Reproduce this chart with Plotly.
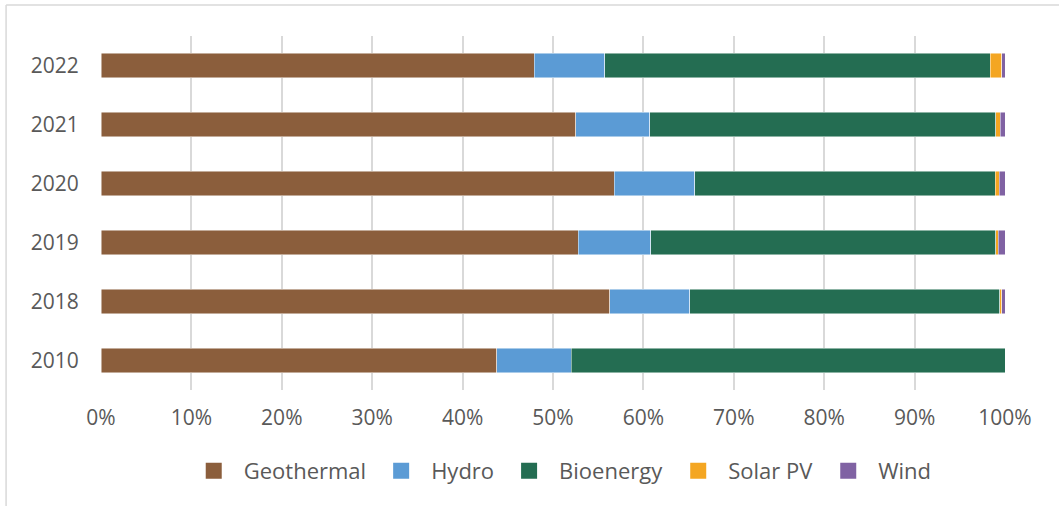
import plotly.graph_objects as go

years = ["2010", "2018", "2019", "2020", "2021", "2022"]
geothermal = [43.8, 56.3, 52.8, 56.8, 52.5, 47.9]
hydro = [8.2, 8.8, 8.0, 8.9, 8.2, 7.85]
bioenergy = [48.0, 34.3, 38.2, 33.2, 38.3, 42.6]
solar_pv = [0.0, 0.25, 0.25, 0.45, 0.45, 1.3]
wind = [0.0, 0.35, 0.75, 0.65, 0.55, 0.35]

series = [
    ("Geothermal", geothermal, "#8B5E3C"),
    ("Hydro", hydro, "#5B9BD5"),
    ("Bioenergy", bioenergy, "#246D52"),
    ("Solar PV", solar_pv, "#F4A622"),
    ("Wind", wind, "#8062A3"),
]

fig = go.Figure()
for name, vals, col in series:
    fig.add_trace(go.Bar(
        y=years, x=vals, name=name, orientation="h", showlegend=False,
        marker=dict(color=col, line=dict(color="rgba(255,255,255,0.6)", width=0.8)),
    ))
# legend swatches (larger squares)
for name, vals, col in series:
    fig.add_trace(go.Scatter(
        x=[None], y=[None], mode="markers", name=name,
        marker=dict(symbol="square", size=16, color=col),
    ))

txt = "#595959"
fig.update_layout(
    width=1059, height=506,
    margin=dict(l=101, r=54, t=36, b=116),
    barmode="stack", barnorm="percent", bargap=0.593,
    plot_bgcolor="white", paper_bgcolor="white",
    font=dict(family="Open Sans", color=txt, size=21),
    xaxis=dict(range=[0, 100], dtick=10, ticksuffix="%", showgrid=True,
               gridcolor="#d9d9d9", gridwidth=1.5, zeroline=False,
               ticks="outside", ticklen=9, tickcolor="rgba(0,0,0,0)",
               tickfont=dict(size=21, color=txt), fixedrange=True),
    yaxis=dict(categoryorder="array", categoryarray=years, showgrid=False,
               ticks="outside", ticklen=17, tickcolor="rgba(0,0,0,0)",
               tickfont=dict(size=21, color=txt), zeroline=False),
    legend=dict(orientation="h", x=0.508, xanchor="center", y=-0.229, yanchor="middle",
                font=dict(family="Open Sans", size=22, color=txt), traceorder="normal",
                itemwidth=50),
    shapes=[
        dict(type="line", xref="paper", yref="paper", x0=-0.105, x1=1.2, y0=1.0876, y1=1.0876,
             line=dict(color="#d9d9d9", width=1.5)),
        dict(type="line", xref="paper", yref="paper", x0=-0.105, x1=-0.105, y0=-0.6, y1=1.0876,
             line=dict(color="#d9d9d9", width=1.5)),
    ],
)

fig.write_html("out.html")
